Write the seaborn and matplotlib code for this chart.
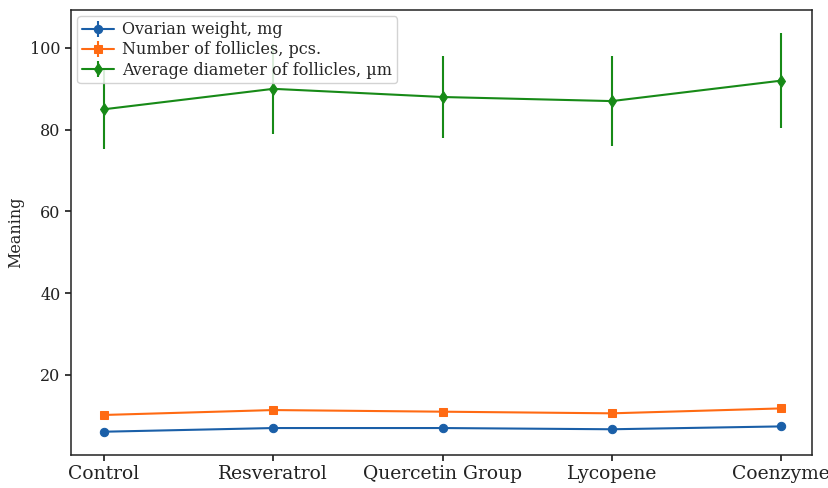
import numpy as np
import pandas as pd
import matplotlib
matplotlib.use("Agg")
import matplotlib.pyplot as plt
import seaborn as sns
from matplotlib.legend_handler import HandlerTuple

categories = ["Control", "Resveratrol", "Quercetin Group", "Lycopene", "Coenzyme"]
ovarian_weight = [6.1, 7.0, 7.0, 6.7, 7.4]
ovarian_weight_err = [0.4, 0.4, 0.4, 0.4, 0.4]
follicle_count = [10.2, 11.4, 11.0, 10.6, 11.8]
follicle_count_err = [0.6, 0.6, 0.6, 0.6, 0.6]
follicle_diameter = [85.0, 90.0, 88.0, 87.0, 92.0]
follicle_diameter_err = [9.8, 11.0, 10.0, 11.0, 11.7]

series_labels = ["Ovarian weight, mg", "Number of follicles, pcs.",
                 "Average diameter of follicles, µm"]
series_values = [ovarian_weight, follicle_count, follicle_diameter]
series_errs = [ovarian_weight_err, follicle_count_err, follicle_diameter_err]
colors = ["#1a5fa8", "#ff6a13", "#178a17"]
markers = ["o", "s", "d"]

sns.set_theme(style="ticks")
plt.rcParams["font.family"] = ["DejaVu Serif"]

fig = plt.figure(figsize=(8.29, 4.88), dpi=100)
ax = fig.add_axes([0.0857, 0.0676, 0.8938, 0.912])

handles = []
for lab, vals, errs, col, mk in zip(series_labels, series_values, series_errs, colors, markers):
    df = pd.DataFrame({"cat": categories, "val": vals})
    sns.lineplot(data=df, x="cat", y="val", ax=ax, color=col, marker=mk,
                 markersize=6, markeredgecolor=col, linewidth=1.5, legend=False, sort=False)
    line = ax.lines[-1]
    eb = ax.errorbar(np.arange(len(categories)), vals, yerr=errs, fmt="none",
                     ecolor=col, elinewidth=1.5, capsize=0)
    handles.append((line, eb))

ax.set_xlim(-0.195, 4.183)
ax.set_ylim(0.4, 109.3)
ax.set_yticks([20, 40, 60, 80, 100])
ax.set_xlabel("")
ax.set_ylabel("Meaning", fontsize=11.5)
ax.tick_params(axis="x", labelsize=13.5, length=4, colors="#222222", labelcolor="#222222")
ax.tick_params(axis="y", labelsize=11.5, length=4, colors="#222222", labelcolor="#222222")
for s in ax.spines.values():
    s.set_color("#222222")
    s.set_linewidth(1.1)

leg = ax.legend(handles, series_labels, handler_map={tuple: HandlerTuple(ndivide=1)},
                loc="upper left", fontsize=11.5, frameon=True, borderpad=0.3,
                labelspacing=0.2, handlelength=2.0, handletextpad=0.5,
                borderaxespad=0.4, framealpha=0.85)
leg.get_frame().set_edgecolor("#cccccc")

fig.savefig("out.png", dpi=100)
